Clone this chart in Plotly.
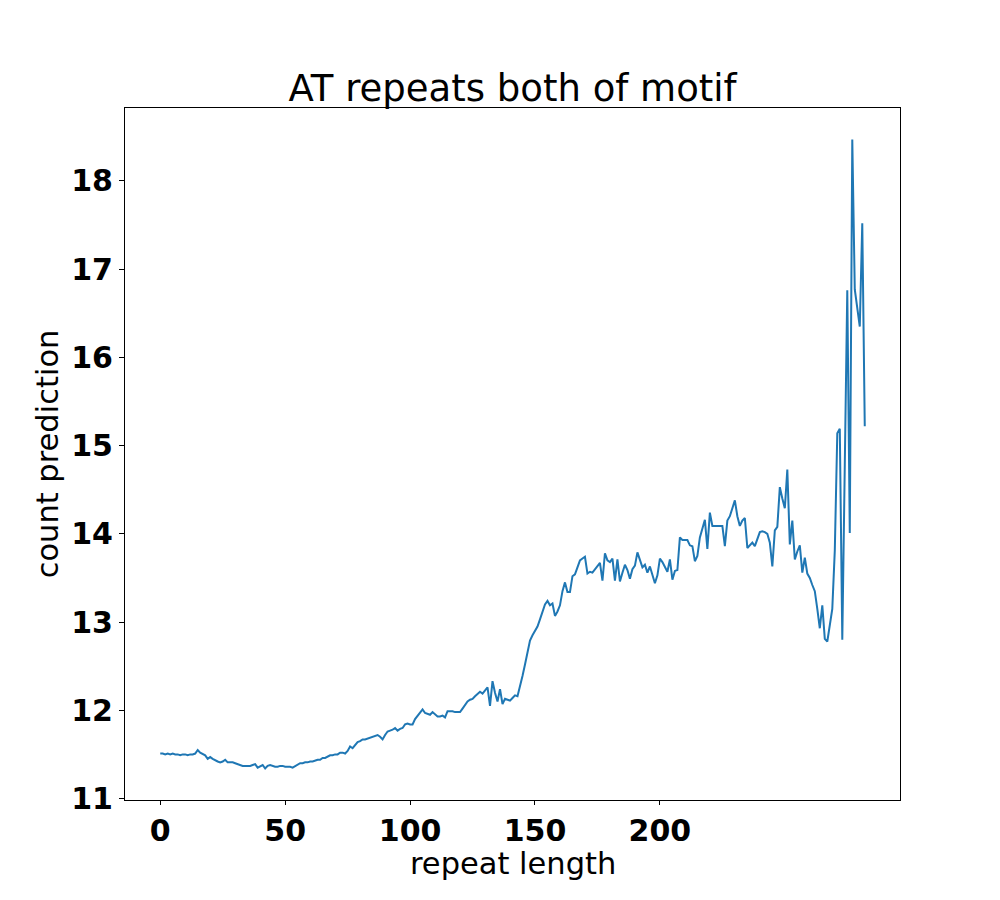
import plotly.graph_objects as go

# repeat length (x) and count prediction (y)
repeat_length = list(range(0, 283))

count_prediction = [
    # 0-19
    11.51, 11.51, 11.50, 11.51, 11.50, 11.51, 11.50, 11.50, 11.49, 11.50,
    11.50, 11.49, 11.50, 11.50, 11.51, 11.55, 11.52, 11.50, 11.49, 11.45,
    # 20-39
    11.47, 11.45, 11.43, 11.42, 11.41, 11.42, 11.44, 11.41, 11.41, 11.41,
    11.40, 11.39, 11.38, 11.37, 11.37, 11.37, 11.37, 11.38, 11.39, 11.35,
    # 40-59
    11.37, 11.38, 11.34, 11.37, 11.38, 11.37, 11.36, 11.36, 11.37, 11.37,
    11.36, 11.36, 11.36, 11.35, 11.37, 11.39, 11.40, 11.40, 11.41, 11.41,
    # 60-79
    11.42, 11.42, 11.43, 11.44, 11.44, 11.46, 11.46, 11.48, 11.49, 11.49,
    11.50, 11.50, 11.52, 11.52, 11.51, 11.54, 11.59, 11.57, 11.61, 11.64,
    # 80-99
    11.65, 11.67, 11.67, 11.68, 11.69, 11.70, 11.71, 11.72, 11.70, 11.67,
    11.72, 11.76, 11.77, 11.78, 11.80, 11.77, 11.79, 11.80, 11.84, 11.85,
    # 100-119
    11.84, 11.84, 11.90, 11.94, 11.98, 12.01, 11.97, 11.96, 11.95, 11.98,
    11.96, 11.93, 11.93, 11.94, 11.92, 11.99, 11.99, 11.99, 11.98, 11.98,
    # 120-139
    11.98, 12.02, 12.06, 12.10, 12.12, 12.13, 12.16, 12.18, 12.21, 12.19,
    12.23, 12.26, 12.05, 12.33, 12.20, 12.10, 12.24, 12.07, 12.13, 12.12,
    # 140-159
    12.11, 12.14, 12.17, 12.16, 12.26, 12.39, 12.52, 12.65, 12.79, 12.85,
    12.90, 12.95, 13.03, 13.12, 13.20, 13.24, 13.19, 13.21, 13.07, 13.12,
    # 160-179
    13.19, 13.35, 13.45, 13.34, 13.34, 13.52, 13.54, 13.62, 13.70, 13.72,
    13.74, 13.55, 13.57, 13.56, 13.60, 13.64, 13.67, 13.47, 13.78, 13.70,
    # 180-199
    13.68, 13.72, 13.47, 13.71, 13.46, 13.56, 13.65, 13.59, 13.49, 13.60,
    13.64, 13.79, 13.70, 13.62, 13.65, 13.56, 13.63, 13.54, 13.44, 13.53,
    # 200-219
    13.72, 13.68, 13.62, 13.57, 13.71, 13.48, 13.58, 13.59, 13.96, 13.93,
    13.93, 13.93, 13.87, 13.86, 13.69, 13.75, 13.96, 14.06, 14.16, 13.83,
    # 220-239
    14.24, 14.09, 14.09, 14.09, 14.09, 14.09, 13.86, 14.15, 14.20, 14.30,
    14.38, 14.20, 14.09, 14.15, 14.18, 13.84, 13.87, 13.90, 13.86, 13.93,
    # 240-259
    14.02, 14.03, 14.02, 14.00, 13.90, 13.63, 14.04, 14.08, 14.53, 14.40,
    14.29, 14.73, 13.88, 14.15, 13.71, 13.80, 13.87, 13.56, 13.73, 13.55,
    # 260-282
    13.50, 13.42, 13.35, 13.15, 12.93, 13.19, 12.81, 12.78, 12.95, 13.15,
    13.81, 15.14, 15.19, 12.80, 14.78, 16.76, 14.01, 18.47, 16.77, 16.56,
    16.35, 17.52, 15.22,
]

# matplotlib-like 5% padding
xmin, xmax = min(repeat_length), max(repeat_length)
ymin, ymax = min(count_prediction), max(count_prediction)
xpad = 0.05 * (xmax - xmin)
ypad = 0.05 * (ymax - ymin)

fig = go.Figure()
fig.add_trace(go.Scatter(
    x=repeat_length, y=count_prediction, mode="lines",
    line=dict(color="#1f77b4", width=2),
    showlegend=False,
))

tick_font = dict(family="DejaVu Sans", size=30, color="black", weight="bold")
label_font = dict(family="DejaVu Sans", size=30.5, color="black")

fig.update_layout(
    width=1000, height=900,
    paper_bgcolor="white", plot_bgcolor="white",
    margin=dict(l=117, r=108, t=100, b=108, autoexpand=False),
    title=dict(
        text="AT repeats both of motif",
        font=dict(family="DejaVu Sans", size=37, color="black"),
        x=0.5, xref="paper", xanchor="center",
        y=1 - 80 / 900, yanchor="middle", yref="container",
    ),
    xaxis=dict(
        range=[xmin - xpad, xmax + xpad],
        tickvals=[0, 50, 100, 150, 200],
        ticks="outside", ticklen=4, tickwidth=1, tickcolor="black",
        showline=True, linecolor="black", linewidth=1, mirror=True,
        showgrid=False, zeroline=False,
        tickfont=tick_font,
    ),
    yaxis=dict(
        range=[ymin - ypad, ymax + ypad],
        tickvals=[11, 12, 13, 14, 15, 16, 17, 18],
        ticks="outside", ticklen=5, tickwidth=1, tickcolor="black",
        showline=True, linecolor="black", linewidth=1, mirror=True,
        showgrid=False, zeroline=False,
        tickfont=tick_font,
        title=dict(text="count prediction", font=label_font, standoff=3),
    ),
    annotations=[dict(
        text="repeat length", font=label_font, showarrow=False,
        xref="paper", yref="paper", x=0.5, y=-63 / 692,
        xanchor="center", yanchor="middle",
    )],
)

fig.write_html("out.html")
